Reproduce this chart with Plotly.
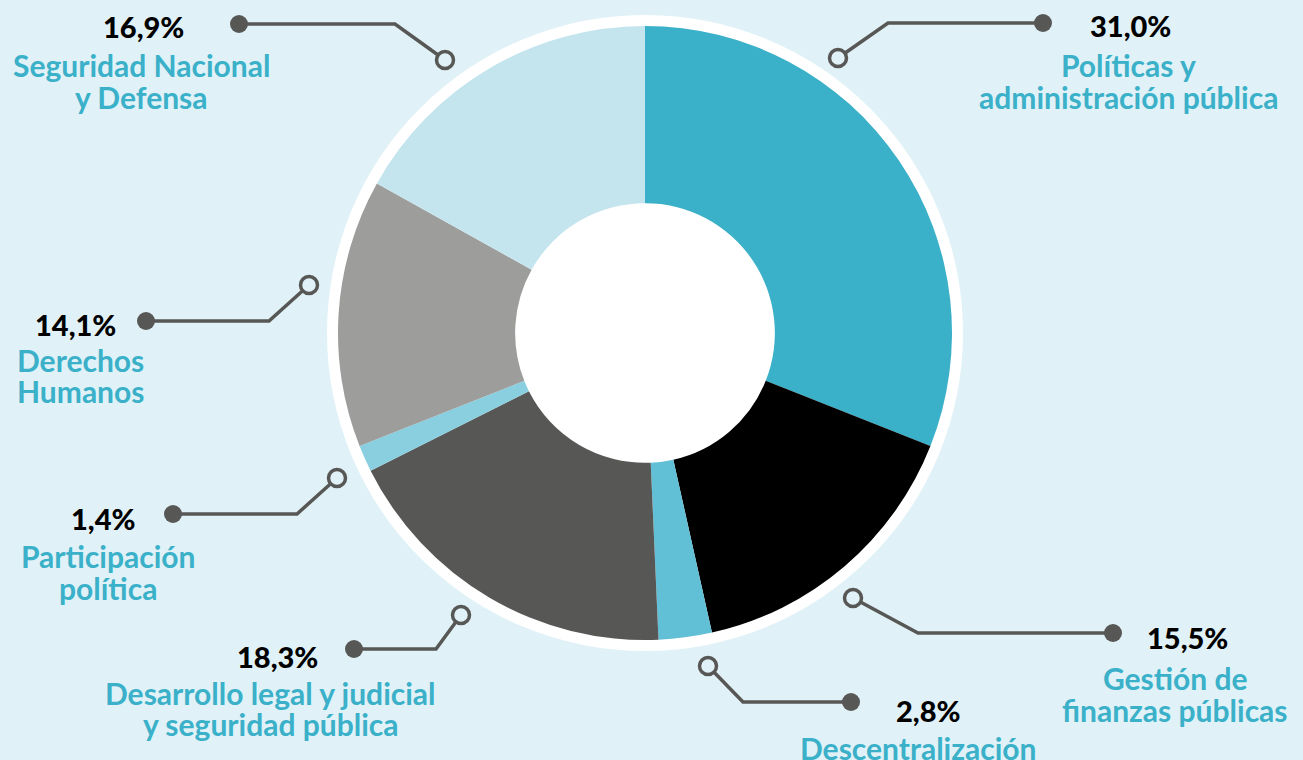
import plotly.graph_objects as go

# ---------------- data ----------------
categories = ["Políticas y administración pública", "Gestión de finanzas públicas",
              "Descentralización", "Desarrollo legal y judicial y seguridad pública",
              "Participación política", "Derechos Humanos", "Seguridad Nacional y Defensa"]
values = [31.0, 15.5, 2.8, 18.3, 1.4, 14.1, 16.9]
pct_labels = ["31,0%", "15,5%", "2,8%", "18,3%", "1,4%", "14,1%", "16,9%"]
label_lines = [["Políticas y", "administración pública"],
               ["Gestión de", "finanzas públicas"],
               ["Descentralización"],
               ["Desarrollo legal y judicial", "y seguridad pública"],
               ["Participación", "política"],
               ["Derechos", "Humanos"],
               ["Seguridad Nacional", "y Defensa"]]

# ---------------- styles / layout ----------------
W, H = 1303, 760
colors = ["#3AB0C9", "#000000", "#62C0D6", "#575756", "#8ACFDF", "#9D9D9C", "#C4E5EE"]
BG = "#E0F2F7"
TEAL = "#3AB0C9"
GREY = "#575756"
CX, CY, R = 645, 333, 307
RING = 318

# callout geometry in pixels: hollow circle, elbow, dot, text centre x, pct y, label line ys
callouts = [
    dict(h=(838, 58), e=(888, 23), d=(1043, 23), tx=1128, px=1130, py=25, ly=[65, 97]),
    dict(h=(853, 598), e=(918, 633), d=(1113, 633), tx=1175, px=1187, py=637, ly=[678, 710]),
    dict(h=(708, 666), e=(743, 702), d=(851, 702), tx=918, px=928, py=710, ly=[748]),
    dict(h=(461, 615), e=(436, 649), d=(354, 649), tx=270, px=277, py=656, ly=[693, 724]),
    dict(h=(337, 478), e=(297, 514), d=(173, 514), tx=108, px=103, py=518, ly=[556, 588]),
    dict(h=(309, 285), e=(269, 321), d=(146, 321), tx=80, px=75, py=324, ly=[360, 391]),
    dict(h=(445, 60), e=(395, 24), d=(239, 24), tx=141, px=143, py=26, ly=[65, 97]),
]

fig = go.Figure()
fig.add_trace(go.Pie(
    labels=categories, values=values, sort=False, direction="clockwise", rotation=0,
    hole=0.423, textinfo="none", hoverinfo="label+percent",
    marker=dict(colors=colors, line=dict(width=0)),
    domain=dict(x=[(CX - R) / W, (CX + R) / W], y=[(H - CY - R) / H, (H - CY + R) / H]),
    showlegend=False,
))

shapes = [dict(type="circle", xref="x", yref="y", layer="below",
               x0=CX - RING, x1=CX + RING, y0=CY - RING, y1=CY + RING,
               fillcolor="white", line=dict(width=0))]
annotations = []
for c, pct, lines in zip(callouts, pct_labels, label_lines):
    hx, hy = c["h"]; ex, ey = c["e"]; dx, dy = c["d"]
    shapes.append(dict(type="path", xref="x", yref="y",
                       path=f"M {hx},{hy} L {ex},{ey} L {dx},{dy}",
                       line=dict(color=GREY, width=3.5)))
    shapes.append(dict(type="circle", xref="x", yref="y",
                       x0=dx - 9, x1=dx + 9, y0=dy - 9, y1=dy + 9,
                       fillcolor=GREY, line=dict(width=0)))
    shapes.append(dict(type="circle", xref="x", yref="y",
                       x0=hx - 8.5, x1=hx + 8.5, y0=hy - 8.5, y1=hy + 8.5,
                       fillcolor=BG, line=dict(color=GREY, width=3.5)))
    annotations.append(dict(x=c["px"], y=c["py"], xref="x", yref="y", text=pct,
                            showarrow=False, xanchor="center", yanchor="middle",
                            font=dict(family="Lato", size=29, color="black", weight=900)))
    for ly, t in zip(c["ly"], lines):
        annotations.append(dict(x=c["tx"], y=ly, xref="x", yref="y", text=t,
                                showarrow=False, xanchor="center", yanchor="middle",
                                borderpad=0,
                                font=dict(family="Lato", size=30, color=TEAL, weight=700)))

fig.update_layout(
    width=W, height=H, margin=dict(l=0, r=0, t=0, b=0),
    paper_bgcolor=BG, plot_bgcolor=BG,
    xaxis=dict(range=[0, W], visible=False, domain=[0, 1], fixedrange=True),
    yaxis=dict(range=[H, 0], visible=False, domain=[0, 1], fixedrange=True),
    shapes=shapes, annotations=annotations,
)
fig.write_html("out.html", config={"displayModeBar": False})

# remove the default page margin so the figure fills the window exactly
with open("out.html", encoding="utf-8") as f:
    html = f.read()
html = html.replace("<head>", "<head><style>html,body{margin:0;padding:0;overflow:hidden;background:%s}</style>" % BG, 1)
with open("out.html", "w", encoding="utf-8") as f:
    f.write(html)
